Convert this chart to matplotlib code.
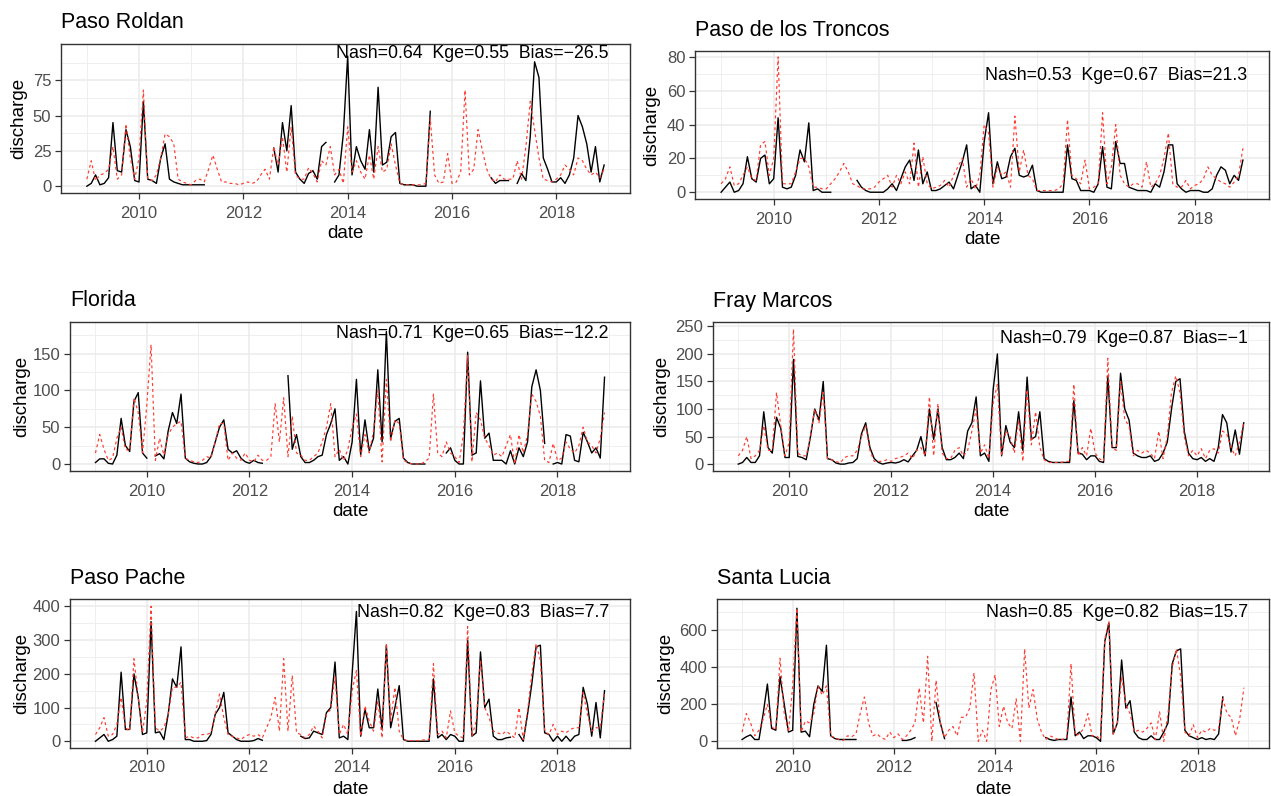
import numpy as np
import matplotlib
matplotlib.use("Agg")
import matplotlib.pyplot as plt

N = np.nan
W, H = 1271, 796

# ---------------- data (monthly, Jan 2009 .. Dec 2018) ----------------
stations = ["Paso Roldan", "Paso de los Troncos", "Florida",
            "Fray Marcos", "Paso Pache", "Santa Lucia"]
stats = ["Nash=0.64  Kge=0.55  Bias=\u221226.5",
         "Nash=0.53  Kge=0.67  Bias=21.3",
         "Nash=0.71  Kge=0.65  Bias=\u221212.2",
         "Nash=0.79  Kge=0.87  Bias=\u22121",
         "Nash=0.82  Kge=0.83  Bias=7.7",
         "Nash=0.85  Kge=0.82  Bias=15.7"]
stat_y = [94, 69, 178, 228, 382, 697]

roldan_obs = [0, 2, 8, 1, 2, 6, 45, 11, 10, 40, 28, 4,
              3, 60, 5, 4, 2, 20, 30, 5, 3, 2, 1, 1,
              1, 1, 1, 1, N, N, N, N, N, N, N, N,
              N, N, N, N, N, N, N, 27, 10, 45, 25, 57,
              10, 5, 2, 9, 11, 5, 28, 31, N, 3, 8, 37,
              92, 8, 28, 18, 12, 40, 10, 70, 15, 17, 35, 38,
              2, 1, 1, 1, 0, 0, 0, 53, N, N, N, N,
              N, N, N, N, N, N, N, N, N, 6, 2, 4,
              4, 4, N, 2, 9, 4, 35, 88, 77, 20, 12, 3,
              3, 6, 2, 8, 20, 50, 42, 30, 10, 28, 3, 15]
roldan_sim = [5, 18, 4, 8, 9, 12, 28, 5, 8, 44, 20, 5,
              20, 68, 5, 4, 8, 20, 37, 35, 30, 5, 3, 2,
              1, 4, 5, 3, 12, 22, 12, 3, 3, 2, 2, 1,
              2, 3, 2, 3, 8, 12, 5, 28, 15, 35, 10, 42,
              8, 5, 5, 13, 9, 3, 18, 15, 28, 8, 12, 2,
              42, 10, 18, 10, 5, 22, 5, 28, 10, 12, 30, 15,
              2, 1, 1, 1, 1, 1, 2, 48, 8, 2, 3, 23,
              2, 3, 10, 68, 8, 12, 40, 25, 12, 5, 3, 8,
              5, 5, 5, 18, 5, 28, 60, 40, 20, 5, 4, 3,
              5, 8, 15, 12, 8, 20, 18, 12, 8, 10, 6, 12]

troncos_obs = [0, 3, 6, 0, 1, 5, 21, 8, 6, 20, 22, 5,
               8, 44, 3, 2, 3, 10, 25, 18, 41, 1, 2, 0,
               0, 0, N, N, N, N, N, 7, 3, 1, 0, 0,
               0, 0, 2, 5, 1, 8, 15, 19, 7, 25, 5, 12,
               1, 1, 2, 4, 6, 2, 10, 18, 28, 2, 4, 0,
               30, 47, 5, 18, 8, 9, 21, 26, 10, 9, 10, 16,
               1, 0, 0, 0, 0, 0, 0, 28, 8, 7, 1, 1,
               1, 0, 5, 27, 3, 2, 30, 17, 17, 3, 2, 1,
               1, 1, 0, 5, 3, 12, 28, 28, 5, 2, 0, 1,
               1, 1, 0, 0, 2, 10, 15, 13, 5, 10, 7, 19]
troncos_sim = [5, 8, 15, 4, 5, 10, 15, 8, 7, 28, 30, 10,
               20, 80, 5, 5, 5, 12, 20, 20, 15, 3, 3, 2,
               2, 5, 8, 12, 17, 12, 5, 4, 2, 2, 2, 3,
               6, 8, 10, 3, 10, 5, 12, 5, 29, 3, 21, 5,
               2, 3, 4, 7, 3, 10, 15, 20, 3, 8, 2, 10,
               40, 35, 3, 15, 10, 12, 3, 45, 12, 25, 10, 8,
               1, 1, 1, 1, 1, 2, 5, 43, 10, 8, 5, 19,
               2, 3, 5, 47, 5, 15, 40, 10, 5, 3, 5, 5,
               3, 18, 3, 5, 10, 20, 35, 5, 3, 3, 7, 2,
               4, 5, 8, 15, 10, 8, 6, 5, 3, 6, 10, 26]

florida_obs = [2, 7, 7, 1, 0, 12, 62, 25, 17, 85, 97, 15,
               8, N, 11, 14, 7, 45, 70, 55, 95, 8, 3, 1,
               0, 0, 2, 10, 30, 50, 60, 20, 15, 18, 8, 3,
               1, 5, 2, 1, N, N, N, N, N, 120, 20, 40,
               10, 2, 2, 5, 10, 12, 40, 55, 75, 5, 10, 0,
               30, 115, 12, 60, 18, 35, 128, 30, 180, 35, 58, 62,
               8, 2, 0, 0, 0, 0, N, N, N, N, 15, 22,
               5, 0, 0, 152, 12, 15, 113, 35, 42, 5, 5, 5,
               0, 18, 0, 22, 10, 30, 105, 128, 100, 28, N, 0,
               2, 0, 40, 38, 5, 3, 43, 30, 15, 22, 8, 118]
florida_sim = [15, 40, 20, 5, 8, 35, 50, 20, 18, 90, 70, 15,
               80, 162, 5, 35, 12, 40, 50, 55, 58, 8, 5, 3,
               2, 5, 10, 8, 30, 55, 55, 5, 15, 8, 5, 15,
               5, 3, 12, 5, 5, 10, 82, 30, 90, 10, 65, 15,
               12, 5, 5, 10, 15, 30, 50, 82, 10, 20, 5, 20,
               50, 68, 10, 40, 15, 45, 100, 3, 115, 30, 60, 55,
               5, 2, 0, 0, 0, 3, 8, 95, 15, 10, 30, 15,
               10, 2, 40, 148, 3, 70, 60, 35, 25, 12, 15, 10,
               25, 40, 0, 40, 15, 40, 95, 85, 65, 5, 2, 28,
               5, 8, 30, 20, 15, 25, 50, 30, 25, 15, 35, 70]

fray_obs = [0, 3, 12, 3, 3, 15, 95, 30, 20, 85, 65, 12,
            12, 190, 14, 12, 8, 50, 100, 80, 150, 10, 8, 2,
            0, 0, 2, 3, 10, 55, 75, 30, 10, 3, 0, 2,
            3, 2, 4, 8, 4, 15, 25, 50, 15, 100, 45, 100,
            30, 8, 8, 12, 20, 10, 60, 75, 122, 15, 20, 5,
            135, 200, 15, 70, 40, 30, 95, 25, 158, 45, 50, 95,
            10, 5, 3, 3, 3, 3, 3, 115, 20, 18, 8, 15,
            15, 5, 3, 160, 30, 30, 165, 100, 80, 20, 15, 12,
            12, 15, 5, 8, 20, 40, 100, 150, 155, 60, 20, 10,
            8, 12, 5, 10, 5, 30, 90, 75, 22, 62, 18, 75]
fray_sim = [15, 25, 50, 10, 15, 25, 70, 25, 25, 130, 70, 15,
            40, 245, 20, 15, 15, 50, 100, 75, 130, 10, 8, 5,
            2, 12, 15, 15, 25, 50, 70, 25, 5, 5, 5, 8,
            5, 10, 12, 15, 20, 10, 25, 30, 15, 122, 15, 110,
            20, 10, 10, 25, 30, 15, 25, 60, 100, 20, 35, 10,
            110, 145, 15, 60, 50, 20, 80, 5, 135, 35, 95, 30,
            8, 3, 3, 3, 3, 5, 5, 145, 15, 30, 15, 65,
            20, 10, 5, 192, 30, 25, 150, 80, 70, 15, 25, 20,
            25, 20, 10, 60, 10, 50, 130, 160, 130, 50, 15, 25,
            15, 28, 10, 25, 28, 20, 60, 55, 30, 15, 40, 75]

pache_obs = [0, 10, 20, 0, 5, 15, 205, 35, 35, 200, 130, 20,
             25, 355, 25, 28, 5, 80, 185, 160, 280, 5, 5, 0,
             0, 0, 2, 20, 80, 100, 145, 25, 15, 5, 0, 0,
             0, 2, 8, 3, N, N, N, N, N, N, N, N,
             15, 8, 10, 30, 25, 20, 85, 100, 235, 10, 15, 5,
             200, 385, 15, 95, 40, 40, 155, 35, 285, 40, 100, 165,
             5, 0, 0, 0, 0, 0, 0, 185, 10, 20, 5, 20,
             15, 0, 0, 300, 15, 25, 265, 100, 125, 15, 5, 5,
             10, 12, N, 20, 0, 80, 170, 280, 285, 25, 20, 0,
             15, 0, 15, 0, 15, 20, 160, 110, 15, 115, 10, 150]
pache_sim = [20, 40, 70, 15, 20, 50, 130, 40, 30, 245, 130, 25,
             120, 400, 40, 30, 40, 80, 160, 160, 175, 10, 15, 10,
             10, 20, 20, 25, 80, 140, 70, 20, 15, 10, 5, 15,
             20, 15, 20, 10, 40, 70, 130, 30, 245, 30, 195, 25,
             20, 10, 20, 45, 30, 10, 80, 95, 190, 20, 50, 20,
             150, 210, 15, 105, 60, 30, 120, 10, 290, 60, 160, 30,
             5, 2, 2, 2, 2, 5, 5, 230, 20, 30, 10, 90,
             25, 15, 10, 340, 15, 60, 240, 100, 70, 30, 25, 20,
             30, 20, 10, 100, 5, 90, 200, 290, 240, 30, 20, 50,
             20, 30, 25, 35, 40, 40, 145, 80, 30, 40, 40, 145]

lucia_obs = [10, 25, 35, 10, 10, 150, 310, 70, 60, 350, 200, 50,
             60, 720, 50, 55, 25, 200, 300, 270, 520, 30, 15, 10,
             10, 10, 10, 10, N, N, N, N, N, N, N, N,
             N, N, 5, 5, 10, 20, N, N, N, N, 210, 100,
             15, N, N, N, N, N, N, N, N, N, N, N,
             N, N, N, N, N, N, N, N, N, N, N, N,
             20, 10, 5, 10, 10, 10, 240, 30, 50, 15, 30, 30,
             20, 0, 540, 640, 40, 100, 440, 180, 220, 50, 20, 10,
             10, 30, 10, 10, 50, 100, 420, 490, 500, 60, 30, 20,
             10, 20, 10, 15, 10, 40, 240, N, N, N, N, N]
lucia_sim = [50, 150, 100, 30, 60, 120, 200, 80, 60, 450, 150, 50,
             300, 720, 50, 110, 100, 150, 300, 250, 300, 30, 20, 10,
             5, 30, 25, 40, 150, 240, 100, 30, 40, 20, 10, 50,
             20, 40, 10, 30, 60, 100, 290, 100, 460, 0, 330, 100,
             20, 60, 80, 30, 130, 130, 180, 370, 0, 60, 0, 280,
             360, 80, 190, 100, 70, 230, 0, 500, 180, 280, 120, 50,
             10, 30, 20, 10, 10, 20, 420, 30, 40, 70, 150, 30,
             30, 10, 550, 650, 40, 100, 350, 200, 150, 50, 60, 50,
             70, 100, 10, 160, 0, 150, 400, 500, 350, 50, 30, 90,
             20, 60, 50, 70, 60, 70, 230, 150, 130, 30, 120, 290]

obs_all = [roldan_obs, troncos_obs, florida_obs, fray_obs, pache_obs, lucia_obs]
sim_all = [roldan_sim, troncos_sim, florida_sim, fray_sim, pache_sim, lucia_sim]
year_ticks = [2010, 2012, 2014, 2016, 2018]
y_ticks = [[0, 25, 50, 75], [0, 20, 40, 60, 80], [0, 50, 100, 150],
           [0, 50, 100, 150, 200, 250], [0, 100, 200, 300, 400],
           [0, 200, 400, 600]]

# ---------------- layout (pixel boxes: left, right, top, bottom) ----------------
boxes = [(61, 630, 44, 193), (695, 1269, 51, 199),
         (70, 630, 322, 471), (713, 1269, 322, 471),
         (70, 630, 599, 748), (717, 1269, 599, 748)]
ylims = [(-4.8, 100.6), (-4.0, 83.5), (-9.5, 193), (-12.5, 258),
         (-20, 422), (-36, 770)]
ylab_off = [42, 43, 48, 51, 48, 51]

plt.rcParams['font.family'] = ['Liberation Sans', 'DejaVu Sans']
fig = plt.figure(figsize=(W / 100, H / 100), dpi=100)
fig.patch.set_facecolor('white')

t = 2009 + np.arange(120) / 12.0
GRID = '#EBEBEB'

for i in range(6):
    l, r, tp, b = boxes[i]
    ax = fig.add_axes([l / W, 1 - b / H, (r - l) / W, (b - tp) / H])
    ax.set_facecolor('white')
    x0, x1 = t[0], t[-1]
    pad = 0.05 * (x1 - x0)
    ax.set_xlim(x0 - pad, x1 + pad)
    ax.set_ylim(*ylims[i])
    yt = y_ticks[i]
    step = yt[1] - yt[0]
    ax.set_xticks(year_ticks)
    ax.set_xticklabels([str(y) for y in year_ticks])
    ax.set_xticks(np.arange(2009, 2020, 2), minor=True)
    ax.set_yticks(yt)
    ax.set_yticklabels([str(v) for v in yt])
    ax.set_yticks(np.arange(yt[0] + step / 2, ylims[i][1], step), minor=True)
    ax.grid(True, which='major', color=GRID, linewidth=1.1)
    ax.grid(True, which='minor', color=GRID, linewidth=0.55)
    ax.set_axisbelow(True)
    ax.tick_params(which='major', length=4, width=0.9, color='#333333',
                   labelcolor='#4D4D4D', labelsize=12, pad=3)
    ax.tick_params(axis='x', which='major', pad=5)
    ax.tick_params(which='minor', length=0)
    for s in ax.spines.values():
        s.set_color('#333333')
        s.set_linewidth(1.0)

    obs = np.array(obs_all[i], dtype=float)
    sim = np.array(sim_all[i], dtype=float)
    ax.plot(t, obs, color='black', linewidth=1.0, zorder=3)
    ax.plot(t, sim, color='#FF3B30', linewidth=0.85,
            linestyle=(0, (2.5, 2.5)), zorder=4)

    ax.text(2019.0, stat_y[i], stats[i], ha='right', va='center',
            fontsize=12.8, color='black', zorder=5)

    ax.annotate(stations[i], xy=(0, 1), xycoords='axes fraction',
                xytext=(0, 21), textcoords='offset pixels',
                ha='left', va='center', fontsize=15.5, color='black')
    ax.annotate('date', xy=(0.5, 0), xycoords='axes fraction',
                xytext=(0, -41), textcoords='offset pixels',
                ha='center', va='center', fontsize=13.5, color='black')
    ax.annotate('discharge', xy=(0, 0.5), xycoords='axes fraction',
                xytext=(-ylab_off[i], 0), textcoords='offset pixels',
                ha='center', va='center', rotation=90, fontsize=13.5,
                color='black')

fig.savefig('out.png', dpi=100, facecolor='white')
